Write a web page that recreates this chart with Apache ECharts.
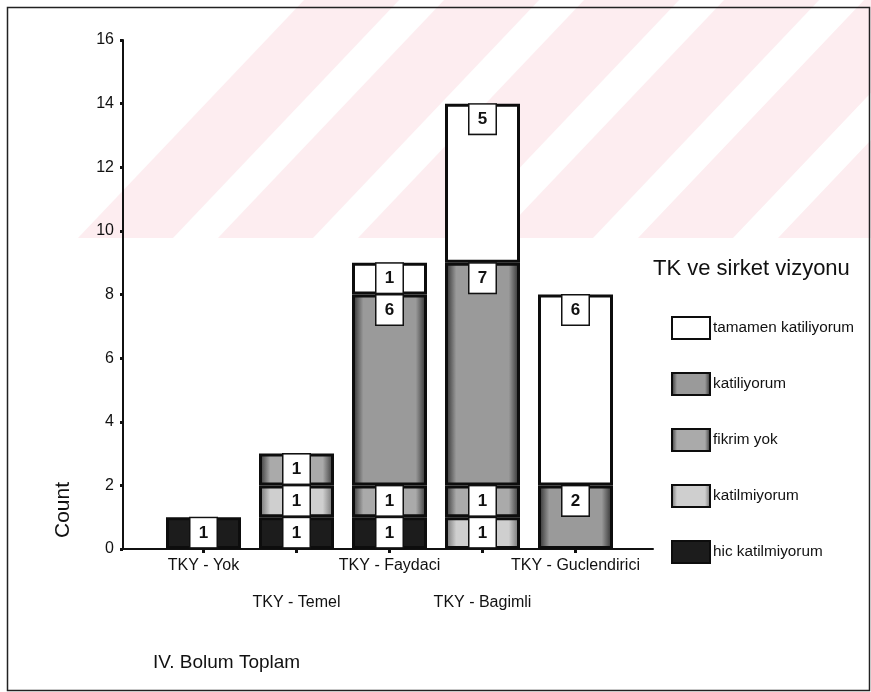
<!DOCTYPE html>
<html>
<head>
<meta charset="utf-8">
<script src="https://cdn.jsdelivr.net/npm/echarts@6/dist/echarts.min.js"></script>
<style>
  html, body { margin: 0; padding: 0; background: #fff; }
  #chart { width: 871px; height: 692px; }
</style>
</head>
<body>
<div id="chart"></div>
<script>
// Categories and counts per answer (stacked bottom to top)
const categories = ['TKY - Yok', 'TKY - Temel', 'TKY - Faydaci', 'TKY - Bagimli', 'TKY - Guclendirici'];
const hicKatilmiyorum    = [1, 1, 1, 0, 0];
const katilmiyorum       = [0, 1, 0, 1, 0];
const fikrimYok          = [0, 1, 1, 1, 0];
const katiliyorum        = [0, 0, 6, 7, 2];
const tamamenKatiliyorum = [0, 0, 1, 5, 6];

const seriesNames = ['hic katilmiyorum', 'katilmiyorum', 'fikrim yok', 'katiliyorum', 'tamamen katiliyorum'];
const seriesValues = [hicKatilmiyorum, katilmiyorum, fikrimYok, katiliyorum, tamamenKatiliyorum];
const legendOrder = ['tamamen katiliyorum', 'katiliyorum', 'fikrim yok', 'katilmiyorum', 'hic katilmiyorum'];

const yMin = 0, yMax = 16, yStep = 2;

const FONT = '"Liberation Sans", Arial, Helvetica, sans-serif';

// shaded fill: darker toward the bar edges, lighter in the middle
function shade(base, edge) {
  return {
    type: 'linear', x: 0, y: 0, x2: 1, y2: 0,
    colorStops: [
      { offset: 0, color: edge },
      { offset: 0.15, color: base },
      { offset: 0.85, color: base },
      { offset: 1, color: edge }
    ]
  };
}
const fills = [
  '#1c1c1c',
  shade('#cfcfcf', '#6a6a6a'),
  shade('#aaaaaa', '#2e2e2e'),
  shade('#9a9a9a', '#262626'),
  '#ffffff'
];

const series = seriesNames.map((name, k) => ({
  name: name,
  type: 'bar',
  stack: 'total',
  xAxisIndex: 1,
  yAxisIndex: 1,
  barWidth: 75,
  data: seriesValues[k].map(v => (v === 0 ? '-' : v)),
  itemStyle: { color: fills[k], borderColor: '#0d0d0d', borderWidth: 3 },
  label: {
    show: true,
    position: 'insideTop',
    distance: 1,
    formatter: p => String(p.value),
    backgroundColor: '#ffffff',
    borderColor: '#111',
    borderWidth: 1.5,
    width: 24,
    align: 'center',
    lineHeight: 20,
    padding: [5, 1, 4, 1],
    fontFamily: FONT,
    fontSize: 17,
    fontWeight: 'bold',
    color: '#111'
  },
  emphasis: { disabled: true }
}));

// faint diagonal pink band pattern across the upper part of the page
const bandTop = 0, bandBottom = 238, lean = 0.95;
const stripeStarts = [78, 218, 358, 498, 638, 778];
const stripeWidth = 95;
const stripes = stripeStarts.map(x0 => ({
  type: 'polygon', silent: true, z: -20,
  shape: { points: [
    [x0, bandBottom], [x0 + stripeWidth, bandBottom],
    [x0 + stripeWidth + lean * (bandBottom - bandTop), bandTop],
    [x0 + lean * (bandBottom - bandTop), bandTop]
  ] },
  style: { fill: '#fdedf0' }
}));

const chart = echarts.init(document.getElementById('chart'), null, { renderer: 'canvas' });
chart.setOption({
  animation: false,
  backgroundColor: '#ffffff',
  textStyle: { fontFamily: FONT },
  title: [
    { text: 'IV. Bolum Toplam', left: 148, top: 648,
      textStyle: { fontFamily: FONT, fontSize: 19, fontWeight: 'normal', color: '#111' } },
    { text: 'TK ve sirket vizyonu', left: 648, top: 253,
      textStyle: { fontFamily: FONT, fontSize: 22, fontWeight: 'normal', color: '#111' } }
  ],
  legend: {
    data: legendOrder,
    orient: 'vertical',
    left: 666,
    top: 311,
    icon: 'rect',
    itemWidth: 38,
    itemHeight: 22,
    itemGap: 32,
    selectedMode: false,
    textStyle: { fontFamily: FONT, fontSize: 15.3, color: '#111', padding: [0, 0, 0, -2] },
    itemStyle: { borderWidth: 2 }
  },
  grid: [
    { left: 123, top: 40, width: 530, height: 509 },
    { left: 157, top: 40, width: 465, height: 509 }
  ],
  xAxis: [
    {
      gridIndex: 0, type: 'value', min: 0, max: 1,
      axisLine: { show: true, lineStyle: { color: '#111', width: 2 } },
      axisTick: { show: false }, axisLabel: { show: false }, splitLine: { show: false }
    },
    {
      gridIndex: 1, type: 'category', data: categories,
      axisLine: { show: false },
      axisTick: { show: true, alignWithLabel: true, length: 4, lineStyle: { color: '#111', width: 3 } },
      axisLabel: {
        interval: 0,
        margin: -2,
        lineHeight: 37,
        fontFamily: FONT, fontSize: 16, color: '#111',
        formatter: (v, i) => (i % 2 ? '\n' + v : v)
      },
      splitLine: { show: false }
    }
  ],
  yAxis: [
    {
      gridIndex: 0, type: 'value', min: yMin, max: yMax, interval: yStep,
      axisLine: { show: true, lineStyle: { color: '#111', width: 2 } },
      axisTick: { show: true, length: 3, lineStyle: { color: '#111', width: 3 } },
      axisLabel: { margin: 9, fontFamily: FONT, fontSize: 16, color: '#111' },
      splitLine: { show: false }
    },
    {
      gridIndex: 1, type: 'value', min: yMin, max: yMax, interval: yStep, show: false,
      splitLine: { show: false }
    }
  ],
  graphic: stripes.concat([
    {
      type: 'rect', left: 5, top: 5, z: -1, silent: true,
      shape: { width: 862, height: 683 },
      style: { fill: 'none', stroke: '#222', lineWidth: 1.5 }
    },
    {
      type: 'text', x: 63, y: 510, rotation: Math.PI / 2, silent: true,
      style: { text: 'Count', font: '21px ' + FONT, fill: '#111', textAlign: 'center', textVerticalAlign: 'middle' }
    }
  ]),
  series: series
});
</script>
</body>
</html>
